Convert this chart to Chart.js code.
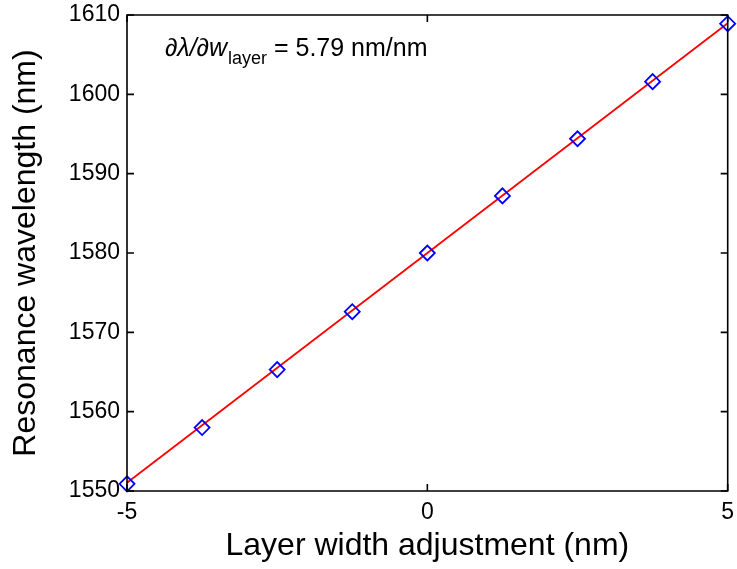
<!DOCTYPE html>
<html>
<head>
<meta charset="utf-8">
<script src="https://cdn.jsdelivr.net/npm/chart.js@4.4.0/dist/chart.umd.min.js"></script>
<style>
  html, body { margin: 0; padding: 0; background: #fff; }
  #wrap { width: 737px; height: 569px; }
</style>
</head>
<body>
<div id="wrap"><canvas id="c" width="737" height="569"></canvas></div>
<script>
// ---- data ----
const widthAdjust = [-5, -3.75, -2.5, -1.25, 0, 1.25, 2.5, 3.75, 5];
const resonance   = [1550.9, 1558.0, 1565.3, 1572.6, 1580.0, 1587.2, 1594.4, 1601.6, 1608.9];
const fitX = [-5, 5];
const fitY = [1551.05, 1608.95];
const xTicks = [-5, 0, 5];
const yTicks = [1550, 1560, 1570, 1580, 1590, 1600, 1610];
const xTitle = 'Layer width adjustment (nm)';
const yTitle = 'Resonance wavelength (nm)';
const annoMain = '\u2202\u03bb/\u2202w';
const annoSub = 'layer';
const annoRest = ' = 5.79 nm/nm';

const FONT = '"Liberation Sans", Arial, sans-serif';

const boxPlugin = {
  id: 'boxTicks',
  afterDatasetsDraw(chart) {
    const {ctx, chartArea: a, scales: {x, y}} = chart;
    ctx.save();
    ctx.strokeStyle = '#000';
    ctx.lineWidth = 1.6;
    ctx.beginPath();
    ctx.rect(a.left, a.top, a.right - a.left, a.bottom - a.top);
    ctx.stroke();
    const L = 7;
    ctx.beginPath();
    xTicks.forEach(v => {
      const px = x.getPixelForValue(v);
      ctx.moveTo(px, a.bottom); ctx.lineTo(px, a.bottom - L);
      ctx.moveTo(px, a.top); ctx.lineTo(px, a.top + L);
    });
    yTicks.forEach(v => {
      const py = y.getPixelForValue(v);
      ctx.moveTo(a.left, py); ctx.lineTo(a.left + L, py);
      ctx.moveTo(a.right, py); ctx.lineTo(a.right - L, py);
    });
    ctx.stroke();
    // annotation
    let tx = a.left + 38, ty = a.top + 41;
    ctx.fillStyle = '#000';
    ctx.textBaseline = 'alphabetic';
    ctx.font = 'italic 25px ' + FONT;
    ctx.fillText(annoMain, tx, ty);
    tx += ctx.measureText(annoMain).width + 1;
    ctx.font = '18px ' + FONT;
    ctx.fillText(annoSub, tx, ty + 8);
    tx += ctx.measureText(annoSub).width;
    ctx.font = '25px ' + FONT;
    ctx.fillText(annoRest, tx, ty);
    ctx.restore();
  }
};

const zeroPad = s => { s.paddingLeft = 0; s.paddingRight = 0; s.paddingTop = 0; s.paddingBottom = 0; };

new Chart(document.getElementById('c'), {
  type: 'scatter',
  data: {
    datasets: [
      {
        label: 'fit',
        data: fitX.map((v, i) => ({x: v, y: fitY[i]})),
        showLine: true,
        borderColor: '#ff0000',
        borderWidth: 1.8,
        pointRadius: 0,
        order: 2
      },
      {
        label: 'simulated',
        data: widthAdjust.map((v, i) => ({x: v, y: resonance[i]})),
        showLine: false,
        pointStyle: 'rectRot',
        pointRadius: 7.5,
        pointBorderWidth: 1.8,
        pointBorderColor: '#0000ff',
        pointBackgroundColor: 'rgba(0,0,0,0)',
        borderColor: '#0000ff',
        order: 1
      }
    ]
  },
  options: {
    responsive: false,
    animation: false,
    devicePixelRatio: 1,
    clip: false,
    layout: { padding: { left: 0, right: 7, top: 15, bottom: 0 } },
    plugins: { legend: { display: false }, tooltip: { enabled: false } },
    scales: {
      x: {
        type: 'linear', min: -5, max: 5,
        afterBuildTicks: s => { s.ticks = xTicks.map(v => ({value: v})); },
        ticks: { color: '#000', font: { family: FONT, size: 23, lineHeight: 1.2 }, padding: 8, maxRotation: 0, autoSkip: false,
                 callback: v => String(v) },
        grid: { display: false, drawTicks: false },
        border: { display: false },
        title: { display: true, text: xTitle, color: '#000', font: { family: FONT, size: 32, lineHeight: 1.2 }, padding: { top: 0, bottom: 4 } },
        afterFit: s => { s.height = 78; zeroPad(s); }
      },
      y: {
        type: 'linear', min: 1550, max: 1610,
        afterBuildTicks: s => { s.ticks = yTicks.map(v => ({value: v})); },
        ticks: { color: '#000', font: { family: FONT, size: 23, lineHeight: 1.2 }, padding: 7, autoSkip: false,
                 callback: v => String(v) },
        grid: { display: false, drawTicks: false },
        border: { display: false },
        title: { display: true, text: yTitle, color: '#000', font: { family: FONT, size: 32, lineHeight: 1.2 }, padding: { top: 7, bottom: 0 } },
        afterFit: s => { s.width = 127; zeroPad(s); }
      }
    }
  },
  plugins: [boxPlugin]
});
</script>
</body>
</html>
